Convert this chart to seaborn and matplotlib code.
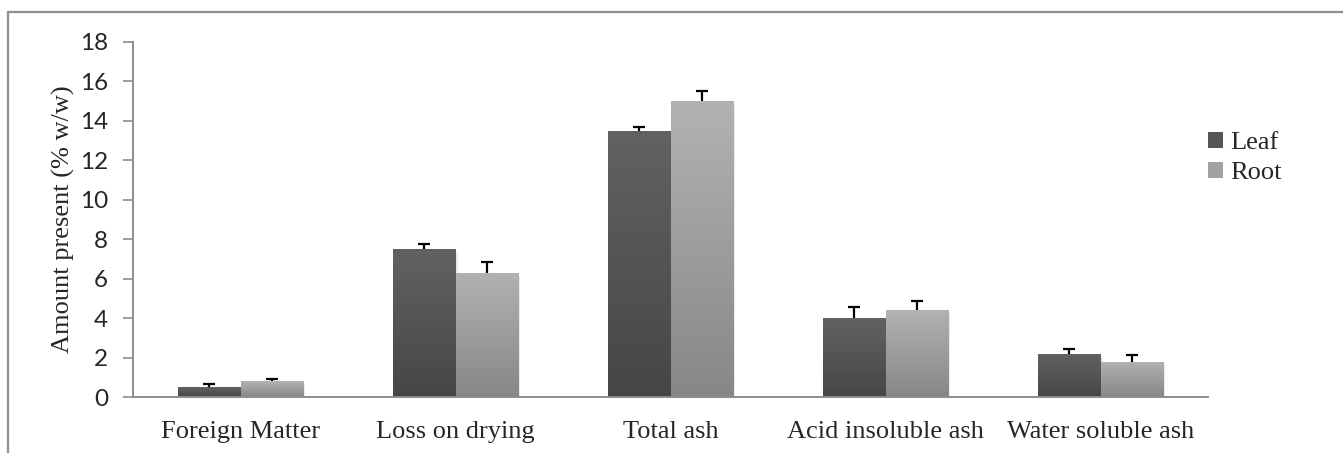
import numpy as np
import pandas as pd
import matplotlib
matplotlib.use("Agg")
import matplotlib.pyplot as plt
from matplotlib.colors import LinearSegmentedColormap
from matplotlib.patches import Patch
from matplotlib.lines import Line2D
import seaborn as sns

categories = ["Foreign Matter", "Loss on drying", "Total ash",
              "Acid insoluble ash", "Water soluble ash"]
series = ["Leaf", "Root"]
leaf_values = [0.5, 7.5, 13.5, 4.0, 2.2]
root_values = [0.8, 6.3, 15.0, 4.4, 1.8]
leaf_err = [0.18, 0.25, 0.2, 0.58, 0.25]
root_err = [0.1, 0.52, 0.5, 0.45, 0.32]
yticks = [0, 2, 4, 6, 8, 10, 12, 14, 16, 18]
ylabel = "Amount present (% w/w)"

df = pd.DataFrame({
    "category": categories * 2,
    "series": [series[0]] * len(categories) + [series[1]] * len(categories),
    "value": leaf_values + root_values,
    "err": leaf_err + root_err,
})

sns.set_style("white")
serif = ["Liberation Serif", "DejaVu Serif"]
plt.rcParams["font.family"] = serif

W, H = 1343, 453
fig = plt.figure(figsize=(W / 100, H / 100), dpi=100)
ax = fig.add_axes([133 / W, 1 - 397 / H, (1208 - 133) / W, (397 - 42) / H])

palette = {"Leaf": "#555555", "Root": "#9d9d9d"}
sns.barplot(data=df, x="category", y="value", hue="series", order=categories,
            hue_order=series, palette=palette, width=0.577, errorbar=None,
            saturation=1, ax=ax, legend=False, linewidth=0)

grads = {
    "Leaf": LinearSegmentedColormap.from_list("lg", ["#464646", "#626262"]),
    "Root": LinearSegmentedColormap.from_list("rg", ["#878787", "#b2b2b2"]),
}

bars = [p for p in ax.patches if p.get_height() > 0]
# seaborn draws hue levels in order: first all Leaf, then all Root
n = len(categories)
grad_img = np.linspace(0, 1, 256).reshape(-1, 1)
for i, bar in enumerate(bars):
    s = series[0] if i < n else series[1]
    x0 = bar.get_x()
    w = bar.get_width()
    h = bar.get_height()
    # soft shadow
    sh = plt.Rectangle((x0 + 0.012, -0.15), w, h, color="#000000", alpha=0.08,
                       linewidth=0, zorder=1.5)
    ax.add_patch(sh)
    im = ax.imshow(grad_img, cmap=grads[s], origin="lower", aspect="auto",
                   extent=[x0, x0 + w, 0, h], zorder=2, interpolation="bicubic")
    im.set_clip_path(bar)
    bar.set_zorder(2)
    # error bar (upper only)
    e = leaf_err[i] if i < n else root_err[i - n]
    _, caps, _ = ax.errorbar(x0 + w / 2, h, yerr=[[0], [e]], fmt="none",
                             ecolor="black", elinewidth=1.6, capsize=4.3,
                             capthick=1.6, zorder=3)
    if len(caps) == 2:
        caps[0].set_visible(False)

ax.set_xlim(-0.5, len(categories) - 0.5)
ax.set_ylim(0, 18)
ax.set_yticks(yticks)
ax.set_yticklabels([str(t) for t in yticks], family=["Lato", "DejaVu Sans"],
                   fontsize=17.5)
ax.set_xticks(range(len(categories)))
ax.set_xticklabels(categories, fontsize=19)
ax.set_xlabel("")
ax.set_ylabel(ylabel, fontsize=19)
ax.yaxis.set_label_coords(-0.054, 0.5)

for side in ["top", "right"]:
    ax.spines[side].set_visible(False)
for side in ["left", "bottom"]:
    ax.spines[side].set_color("#8c8c8c")
    ax.spines[side].set_linewidth(1.4)
ax.tick_params(axis="y", which="both", left=True, length=7, width=1.2,
               color="#8c8c8c", pad=11)
ax.tick_params(axis="x", bottom=False, pad=14)

handles = [Patch(facecolor="#555555", edgecolor="none"),
           Patch(facecolor="#a2a2a2", edgecolor="none")]
fig.legend(handles, series, loc="upper left",
           bbox_to_anchor=(1197 / W, 1 - 121 / H), frameon=False,
           fontsize=19, handlelength=0.6, handleheight=0.6,
           handletextpad=0.25, labelspacing=0.28, borderaxespad=0)

# outer chart frame
fig.add_artist(Line2D([8 / W, 8 / W], [0, 1 - 12 / H], transform=fig.transFigure,
                      color="#8f8f8f", linewidth=1.6))
fig.add_artist(Line2D([8 / W, 1], [1 - 12 / H, 1 - 12 / H],
                      transform=fig.transFigure, color="#8f8f8f", linewidth=1.6))

fig.savefig("out.png", dpi=100)
